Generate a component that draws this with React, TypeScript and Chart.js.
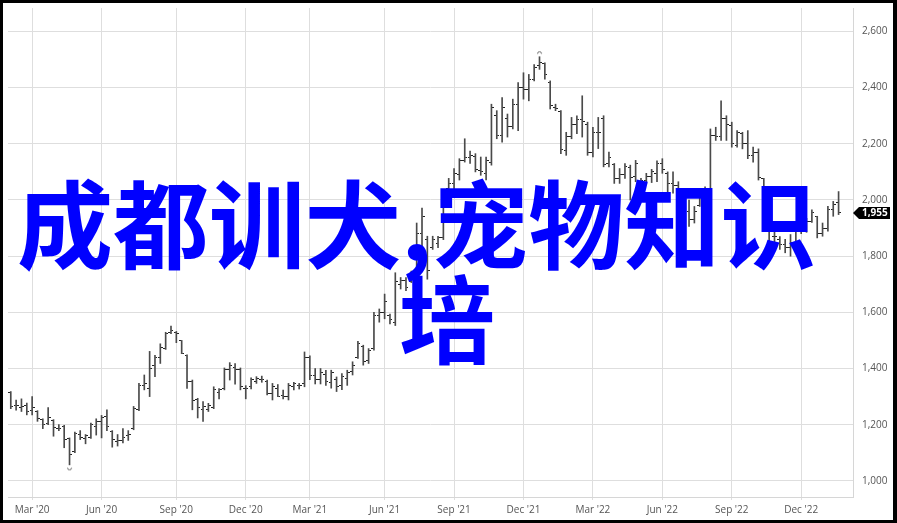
import React, { useEffect, useRef } from 'react';
import { Chart, registerables } from 'chart.js';

Chart.register(...registerables);

// Weekly OHLC values (one entry per week, first week = early Feb 2020)
const opens = [
  1315, 1270, 1262, 1270, 1250, 1248, 1218, 1205, 1215, 1186,
  1195, 1150, 1105, 1165, 1150, 1155, 1195, 1210, 1230, 1175,
  1140, 1145, 1160, 1185, 1255, 1340, 1330, 1410, 1440, 1470,
  1530, 1528, 1498, 1448, 1355, 1290, 1255, 1255, 1260, 1315,
  1330, 1395, 1405, 1395, 1330, 1335, 1355, 1360, 1355, 1310,
  1330, 1305, 1300, 1335, 1340, 1345, 1440, 1375, 1360, 1380,
  1350, 1360, 1340, 1365, 1390, 1440, 1480, 1430, 1470, 1590,
  1600, 1590, 1565, 1700, 1715, 1710, 1745, 1880, 1860, 1830,
  1845, 1865, 2040, 2060, 2090, 2140, 2150, 2155, 2105, 2095,
  2135, 2300, 2230, 2290, 2260, 2340, 2400, 2395, 2430, 2480,
  2485, 2420, 2330, 2315, 2175, 2225, 2270, 2285, 2270, 2170,
  2240, 2290, 2130, 2125, 2075, 2090, 2115, 2085, 2065, 2070,
  2085, 2095, 2130, 2095, 2060, 2050, 2005, 1960, 1930, 1980,
  2030, 2040, 2230, 2225, 2290, 2265, 2195, 2235, 2200, 2160,
  2170, 2075, 1955, 1870, 1860, 1840, 1830, 1850, 1900, 1910,
  1925, 1940, 1880, 1900, 1965, 1990,
];
const highs = [
  1318, 1288, 1292, 1277, 1300, 1250, 1221, 1261, 1218, 1200,
  1198, 1153, 1174, 1179, 1165, 1206, 1221, 1233, 1253, 1179,
  1165, 1186, 1179, 1265, 1347, 1377, 1461, 1447, 1488, 1529,
  1551, 1532, 1500, 1449, 1359, 1294, 1282, 1276, 1335, 1329,
  1402, 1421, 1418, 1402, 1339, 1367, 1371, 1373, 1359, 1347,
  1343, 1323, 1347, 1351, 1347, 1459, 1445, 1400, 1400, 1394,
  1394, 1370, 1382, 1394, 1424, 1497, 1483, 1471, 1600, 1612,
  1665, 1594, 1741, 1724, 1724, 1747, 1918, 1971, 1871, 1871,
  1871, 2012, 2077, 2112, 2147, 2218, 2174, 2165, 2153, 2153,
  2341, 2318, 2365, 2306, 2359, 2418, 2453, 2447, 2482, 2510,
  2488, 2424, 2341, 2318, 2241, 2294, 2300, 2371, 2277, 2259,
  2294, 2300, 2171, 2130, 2112, 2130, 2124, 2141, 2077, 2095,
  2109, 2139, 2147, 2100, 2100, 2065, 2024, 2000, 1977, 2040,
  2047, 2253, 2259, 2353, 2300, 2277, 2247, 2241, 2247, 2188,
  2182, 2077, 1960, 1900, 1870, 1860, 1877, 1924, 1930, 1935,
  1965, 1942, 1918, 1977, 1995, 2030,
];
const lows = [
  1257, 1252, 1247, 1235, 1235, 1212, 1186, 1200, 1159, 1179,
  1118, 1057, 1100, 1147, 1132, 1151, 1163, 1153, 1179, 1120,
  1124, 1135, 1144, 1182, 1250, 1324, 1300, 1371, 1418, 1468,
  1524, 1492, 1453, 1329, 1253, 1224, 1212, 1247, 1257, 1292,
  1324, 1359, 1344, 1324, 1292, 1327, 1347, 1351, 1306, 1288,
  1300, 1292, 1288, 1324, 1327, 1335, 1360, 1345, 1345, 1340,
  1330, 1318, 1325, 1340, 1377, 1436, 1412, 1418, 1465, 1565,
  1577, 1559, 1553, 1683, 1677, 1706, 1741, 1830, 1718, 1824,
  1830, 1859, 2036, 2036, 2071, 2135, 2130, 2100, 2088, 2071,
  2124, 2218, 2206, 2224, 2253, 2247, 2359, 2353, 2424, 2465,
  2430, 2324, 2318, 2165, 2159, 2218, 2236, 2224, 2159, 2153,
  2183, 2118, 2118, 2059, 2059, 2077, 2000, 2065, 2059, 2059,
  2062, 2065, 2095, 2012, 2024, 1989, 1942, 1906, 1918, 1977,
  2012, 2020, 2212, 2212, 2212, 2188, 2188, 2182, 2147, 2135,
  2071, 1977, 1836, 1850, 1824, 1812, 1800, 1824, 1880, 1885,
  1920, 1865, 1871, 1889, 1942, 1948,
];
const closes = [
  1265, 1268, 1265, 1247, 1260, 1221, 1200, 1225, 1190, 1186,
  1148, 1094, 1170, 1155, 1160, 1200, 1212, 1226, 1195, 1147,
  1145, 1155, 1165, 1259, 1340, 1345, 1400, 1440, 1475, 1525,
  1537, 1525, 1455, 1355, 1285, 1260, 1265, 1270, 1325, 1325,
  1395, 1410, 1395, 1335, 1330, 1360, 1365, 1362, 1310, 1335,
  1300, 1300, 1340, 1345, 1340, 1440, 1375, 1360, 1385, 1355,
  1385, 1335, 1370, 1385, 1410, 1490, 1425, 1465, 1590, 1600,
  1640, 1575, 1710, 1715, 1690, 1735, 1880, 1940, 1750, 1860,
  1865, 2000, 2060, 2095, 2140, 2150, 2160, 2110, 2100, 2140,
  2330, 2230, 2330, 2260, 2340, 2400, 2395, 2430, 2470, 2490,
  2445, 2335, 2325, 2180, 2225, 2270, 2285, 2280, 2170, 2240,
  2240, 2125, 2150, 2075, 2090, 2120, 2080, 2130, 2070, 2085,
  2100, 2130, 2110, 2060, 2050, 2005, 1960, 1930, 1960, 2030,
  2035, 2230, 2225, 2290, 2270, 2200, 2240, 2200, 2160, 2170,
  2080, 1990, 1850, 1870, 1840, 1830, 1850, 1900, 1910, 1925,
  1955, 1880, 1900, 1965, 1985, 1955,
];

// Week index of the first weekly bar of each labelled month
const xTickWeeks = [4, 17, 31, 44, 56, 70, 83, 96, 109, 122, 135, 148];
const xTickLabels = [
  "Mar '20", "Jun '20", "Sep '20", "Dec '20", "Mar '21", "Jun '21",
  "Sep '21", "Dec '21", "Mar '22", "Jun '22", "Sep '22", "Dec '22",
];
const yTicks = [1000, 1200, 1400, 1600, 1800, 2000, 2200, 2400, 2600];

const overlayLine1 = '成都训犬,宠物知识';
const overlayLine2 = '培';

function makeTick(side: 'left' | 'right', color: string) {
  const c = document.createElement('canvas');
  c.width = 5;
  c.height = 1;
  const ctx = c.getContext('2d')!;
  ctx.fillStyle = color;
  if (side === 'left') ctx.fillRect(0, 0, 2, 1);
  else ctx.fillRect(3, 0, 2, 1);
  return c;
}

function makeArc(kind: 'high' | 'low', color: string) {
  const c = document.createElement('canvas');
  c.width = 7;
  c.height = 13;
  const ctx = c.getContext('2d')!;
  ctx.strokeStyle = color;
  ctx.lineWidth = 1;
  ctx.beginPath();
  if (kind === 'high') ctx.arc(3.5, 3.5, 2, Math.PI, 2 * Math.PI);
  else ctx.arc(3.5, 9.5, 2, 0, Math.PI);
  ctx.stroke();
  return c;
}

const lastPricePlugin = {
  id: 'lastPrice',
  afterDraw(chart: any) {
    const { ctx, chartArea, scales } = chart;
    const v = closes[closes.length - 1];
    const y = Math.round(scales.y.getPixelForValue(v));
    const x0 = chartArea.right;
    ctx.save();
    ctx.fillStyle = '#000';
    ctx.beginPath();
    ctx.moveTo(x0, y);
    ctx.lineTo(x0 + 6, y - 6);
    ctx.lineTo(x0 + 37, y - 6);
    ctx.lineTo(x0 + 37, y + 6);
    ctx.lineTo(x0 + 6, y + 6);
    ctx.closePath();
    ctx.fill();
    ctx.fillStyle = '#fff';
    ctx.font = 'bold 10px "Open Sans"';
    ctx.textBaseline = 'middle';
    ctx.textAlign = 'left';
    ctx.fillText(v.toLocaleString('en-US'), x0 + 9, y + 0.5);
    ctx.restore();
  },
};

function OhlcChart() {
  const ref = useRef<HTMLCanvasElement | null>(null);

  useEffect(() => {
    if (!ref.current) return;
    const weeks = closes.map((_, i) => i);
    const barColor = '#4a4a4a';
    const hiIdx = highs.indexOf(Math.max(...highs));
    const loIdx = lows.indexOf(Math.min(...lows));
    const chart = new Chart(ref.current, {
      type: 'bar',
      data: {
        datasets: [
          {
            type: 'bar',
            data: weeks.map((i) => ({ x: i, y: [lows[i], highs[i]] })) as any,
            backgroundColor: barColor,
            borderWidth: 0,
            barThickness: 1,
            grouped: false,
          } as any,
          {
            type: 'scatter',
            data: weeks.map((i) => ({ x: i, y: opens[i] })),
            pointStyle: makeTick('left', '#222'),
            pointRadius: 2,
          } as any,
          {
            type: 'scatter',
            data: weeks.map((i) => ({ x: i, y: closes[i] })),
            pointStyle: makeTick('right', '#222'),
            pointRadius: 2,
          } as any,
          {
            type: 'scatter',
            data: [{ x: hiIdx, y: highs[hiIdx] }],
            pointStyle: makeArc('high', '#666'),
            pointRadius: 2,
          } as any,
          {
            type: 'scatter',
            data: [{ x: loIdx, y: lows[loIdx] }],
            pointStyle: makeArc('low', '#666'),
            pointRadius: 2,
          } as any,
        ],
      },
      options: {
        responsive: false,
        animation: false,
        events: [],
        layout: { padding: 0 },
        plugins: {
          legend: { display: false },
          tooltip: { enabled: false },
        },
        scales: {
          x: {
            type: 'linear',
            min: -0.52,
            max: 157.7,
            offset: false,
            afterBuildTicks: (s: any) => {
              s.ticks = xTickWeeks.map((v) => ({ value: v }));
            },
            afterFit: (s: any) => {
              s.height = 23;
              s.paddingLeft = 0;
              s.paddingRight = 0;
            },
            ticks: {
              autoSkip: false,
              maxRotation: 0,
              minRotation: 0,
              padding: 4,
              color: '#555',
              font: { family: '"Open Sans"', size: 10 },
              callback: (_v: any, idx: number) => xTickLabels[idx],
            },
            grid: { offset: false, color: '#dedede', lineWidth: 1, drawTicks: true, tickLength: 3 },
            border: { color: '#d6d6d6' },
          },
          y: {
            type: 'linear',
            position: 'right',
            min: 942.6,
            max: 2683.5,
            afterBuildTicks: (s: any) => {
              s.ticks = yTicks.map((v) => ({ value: v }));
            },
            afterFit: (s: any) => {
              s.width = 40;
              s.paddingTop = 0;
              s.paddingBottom = 0;
            },
            ticks: {
              padding: 9,
              color: '#555',
              font: { family: '"Open Sans"', size: 10 },
              callback: (v: any) => Number(v).toLocaleString('en-US'),
            },
            grid: { offset: false, color: '#dedede', lineWidth: 1, drawTicks: false },
            border: { color: '#d6d6d6' },
          },
        },
      } as any,
      plugins: [lastPricePlugin],
    });
    return () => chart.destroy();
  }, []);

  return <canvas ref={ref} width={890} height={517} style={{ display: 'block' }} />;
}

export default function App() {
  const textStyle: React.CSSProperties = {
    position: 'absolute',
    fontFamily: '"Noto Sans CJK SC", sans-serif',
    fontWeight: 700,
    fontSize: 96,
    lineHeight: '96px',
    color: '#0000ff',
    whiteSpace: 'nowrap',
    pointerEvents: 'none',
  };
  return (
    <div
      style={{
        position: 'absolute',
        left: 0,
        top: 0,
        width: 897,
        height: 523,
        boxSizing: 'border-box',
        borderTop: '3px solid #000',
        borderLeft: '3px solid #000',
        borderBottom: '3px solid #000',
        borderRight: '4px solid #000',
        background: '#fff',
        overflow: 'hidden',
      }}
    >
      <OhlcChart />
      <div style={{ ...textStyle, left: 14, top: 169 }}>{overlayLine1}</div>
      <div style={{ ...textStyle, left: 396, top: 264 }}>{overlayLine2}</div>
    </div>
  );
}
